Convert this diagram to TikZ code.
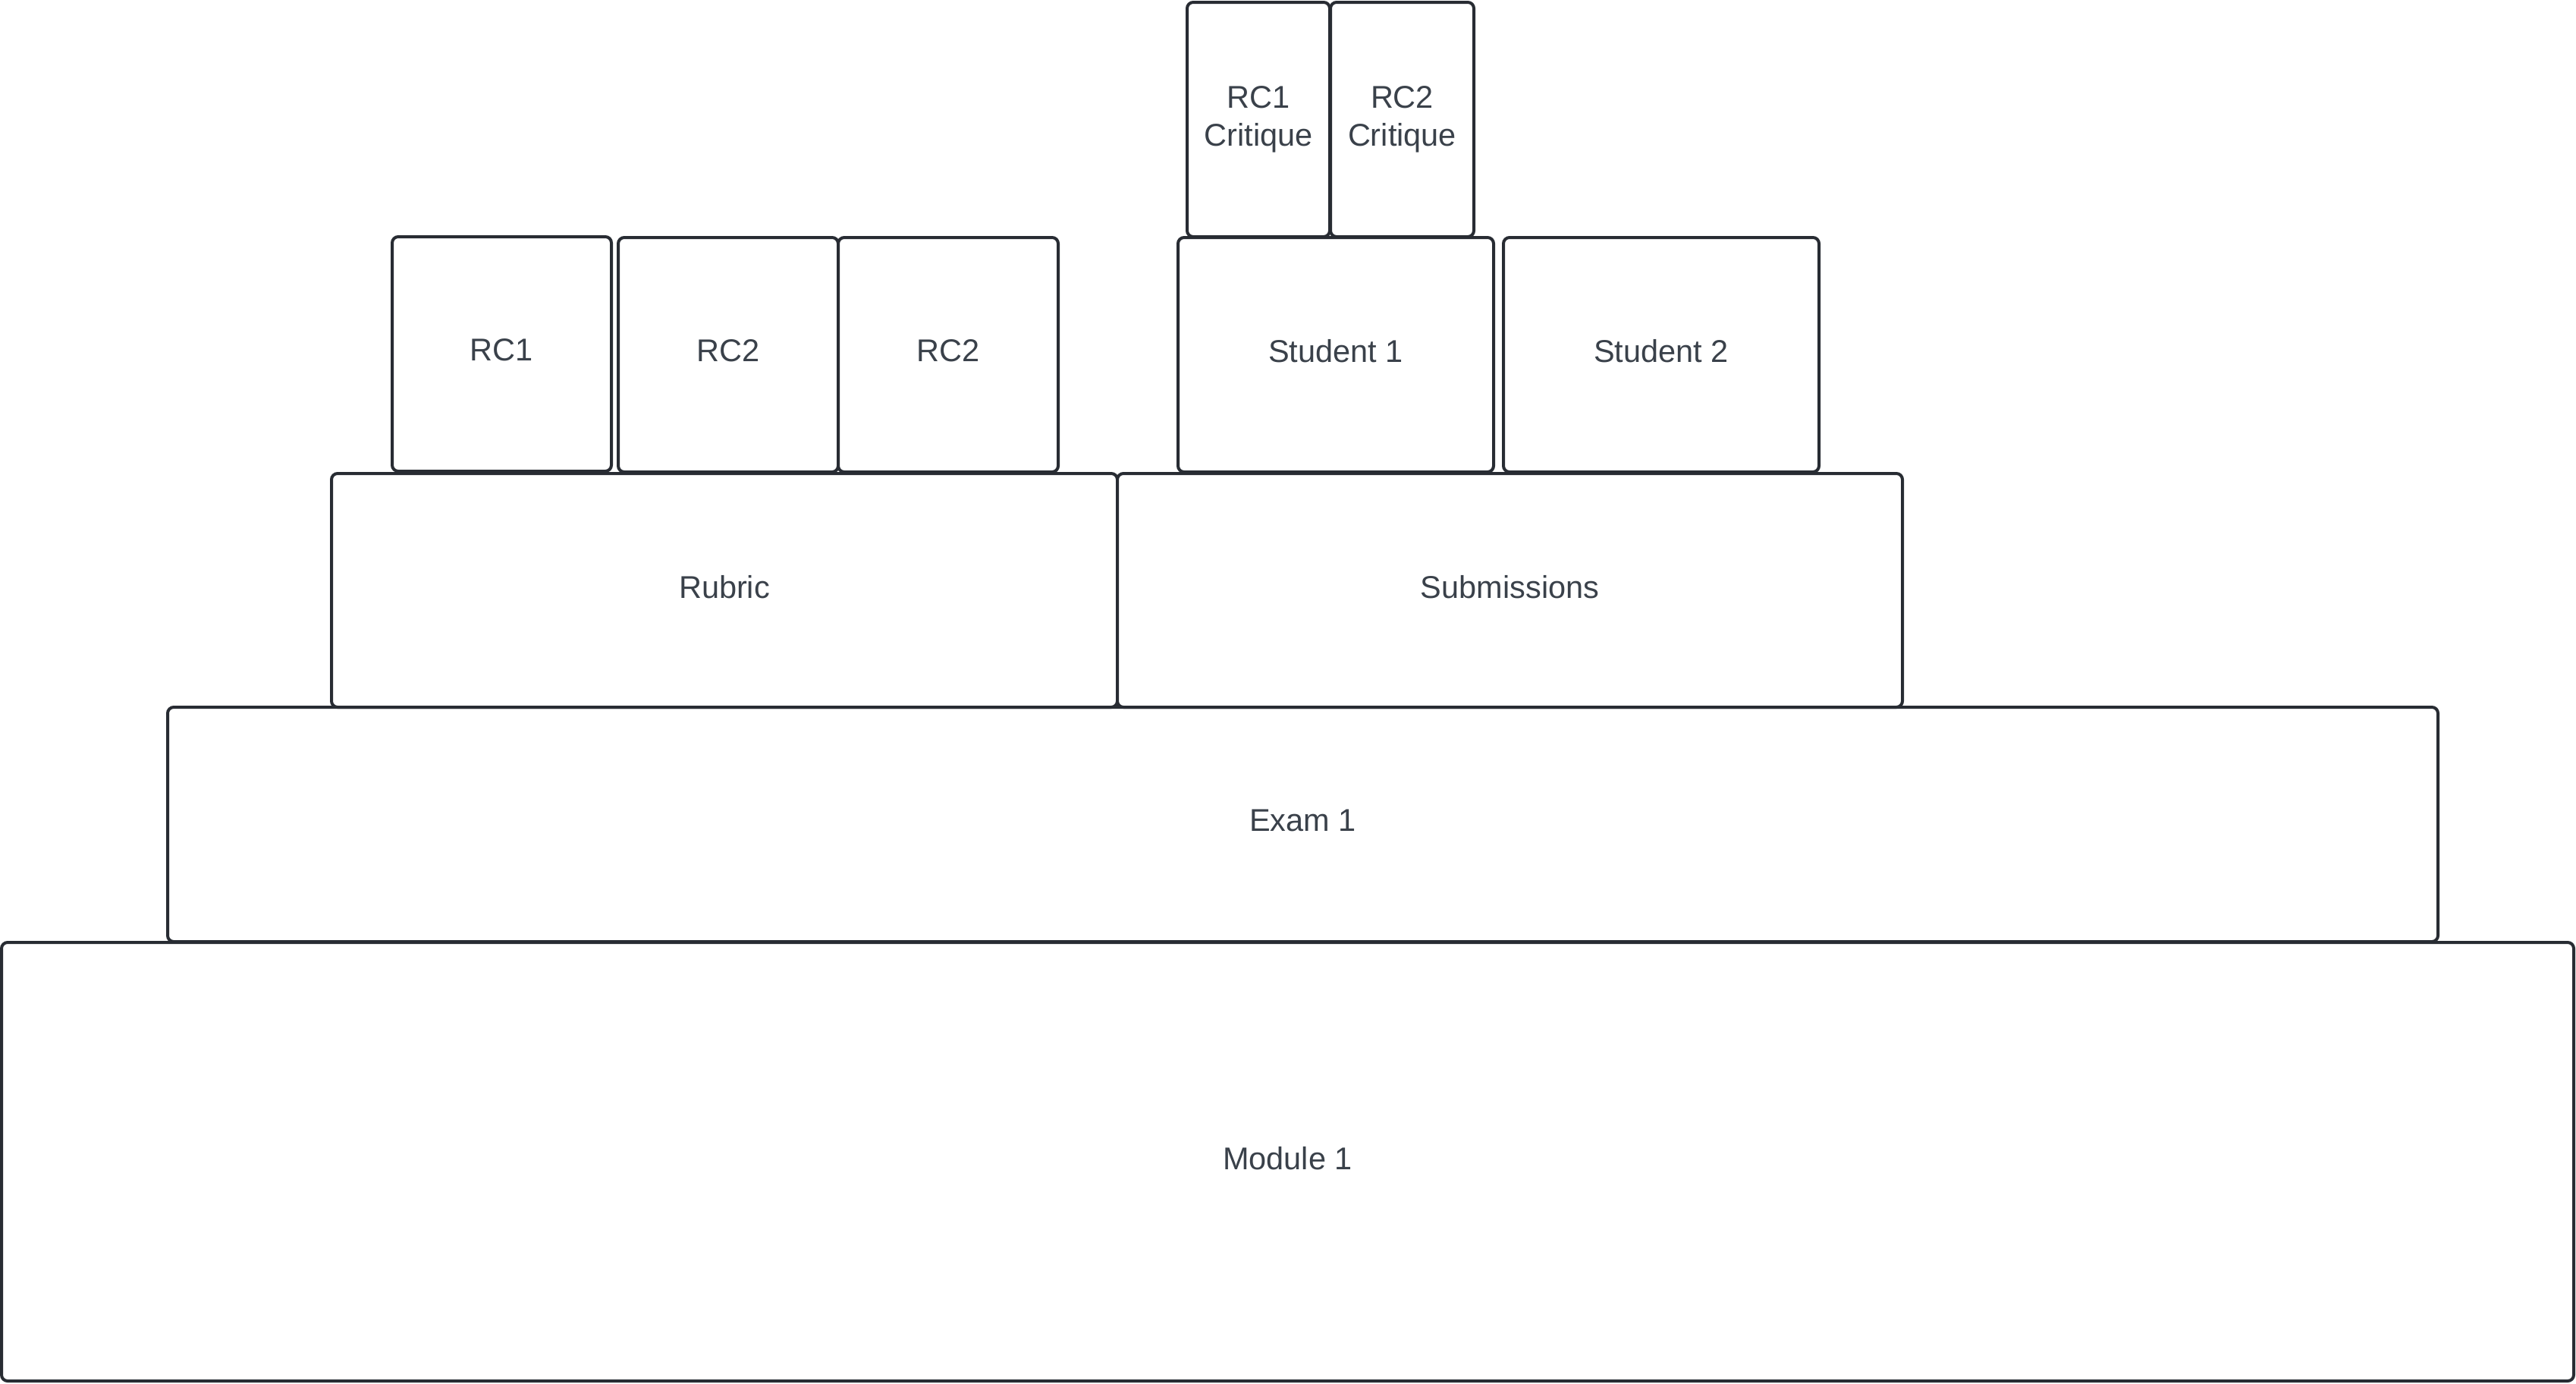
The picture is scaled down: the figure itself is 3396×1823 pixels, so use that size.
\documentclass[tikz,border=0pt]{standalone}
\usepackage{fontspec}
\setmainfont{Liberation Sans}
\definecolor{strokec}{HTML}{282C33}
\definecolor{textc}{HTML}{3A414A}
\tikzset{
  box/.style={draw=strokec, line width=4pt, rounded corners=8pt, fill=white,
    anchor=north west, inner sep=0pt, outer sep=0pt, text=textc,
    font=\fontsize{41.5}{50}\selectfont},
  oneline/.style={text depth=10pt},
  twoline/.style={align=center}
}
\newcommand{\bx}[7]{\node[box, #7, minimum width=#4-#2, minimum height=#5-#3] (#1) at (#2,#3) {#6};}
\begin{document}
\begin{tikzpicture}[x=1pt,y=-1pt]
\useasboundingbox (0,0) rectangle (3396,1823);
\bx{module}{2}{1242}{3393}{1820}{Module 1}{oneline}
\bx{exam}{221}{932}{3214}{1241}{Exam 1}{oneline}
\bx{rubric}{437}{624}{1473}{932}{Rubric}{oneline}
\bx{subm}{1473}{624}{2508}{932}{Submissions}{oneline}
\bx{rca}{517}{312}{806}{621}{RC1}{oneline}
\bx{rcb}{815}{313}{1105}{622}{RC2}{oneline}
\bx{rcc}{1105}{313}{1395}{622}{RC2}{oneline}
\bx{stua}{1553}{313}{1969}{622}{Student 1}{oneline}
\bx{stub}{1982}{313}{2398}{622}{Student 2}{oneline}
\bx{crita}{1565}{3}{1753}{312}{RC1\\Critique}{twoline}
\bx{critb}{1754}{3}{1943}{312}{RC2\\Critique}{twoline}
\end{tikzpicture}
\end{document}
